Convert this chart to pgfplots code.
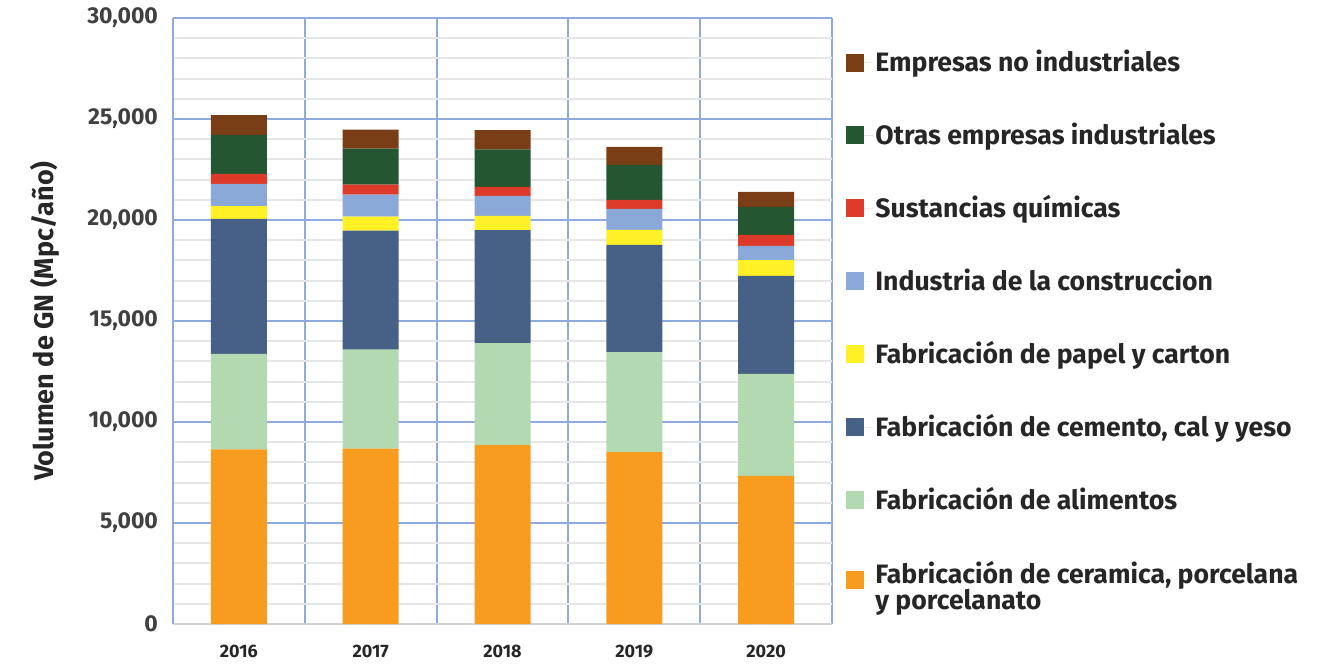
\documentclass[border=0pt]{standalone}
\usepackage{pgfplots}
\pgfplotsset{compat=1.18}
\usepackage{fontspec}
\setmainfont{Fira Sans}
\definecolor{cBrown}{HTML}{7A3E16}
\definecolor{cDGreen}{HTML}{235631}
\definecolor{cRed}{HTML}{DE3A29}
\definecolor{cLBlue}{HTML}{8BA9D8}
\definecolor{cYellow}{HTML}{FFF125}
\definecolor{cDBlue}{HTML}{466185}
\definecolor{cLGreen}{HTML}{B2D9B0}
\definecolor{cOrange}{HTML}{F79C1E}
\definecolor{gridblue}{HTML}{8FAADC}
\definecolor{gridgray}{HTML}{E6E6E6}
\definecolor{ticktext}{HTML}{404040}
\definecolor{darktext}{HTML}{262626}
\begin{document}
\begin{tikzpicture}
\begin{axis}[
  name=main,
  at={(0,0)}, anchor=south west,
  scale only axis,
  width=329.5pt, height=303pt,
  xmin=-0.5, xmax=4.5,
  ymin=0, ymax=30000,
  ybar stacked,
  bar width=28pt,
  xtick={0,1,2,3,4},
  xticklabels={2016,2017,2018,2019,2020},
  minor xtick={-0.5,0.5,1.5,2.5,3.5,4.5},
  ytick={0,5000,10000,15000,20000,25000,30000},
  minor ytick={1000,2000,3000,4000,6000,7000,8000,9000,11000,12000,13000,14000,16000,17000,18000,19000,21000,22000,23000,24000,26000,27000,28000,29000},
  ymajorgrids=true, yminorgrids=true, xminorgrids=true,
  major y grid style={draw=gridblue, line width=1pt},
  minor y grid style={draw=gridgray, line width=1pt},
  minor x grid style={draw=gridblue, line width=1pt},
  major tick length=0pt, minor tick length=0pt,
  axis lines*=left,
  x axis line style={draw=gray!35, line width=1pt},
  y axis line style={draw=gridblue, line width=1pt},
  scaled y ticks=false,
  /pgf/number format/fixed,
  /pgf/number format/1000 sep={,},
  /pgf/number format/assume math mode=true,
  yticklabel style={font=\bfseries\fontsize{11.5}{13}\selectfont, text=ticktext, xshift=-4pt},
  xticklabel style={font=\bfseries\fontsize{9}{11}\selectfont, text=darktext, yshift=-7pt},
  ylabel={Volumen de GN (Mpc/año)},
  ylabel style={font=\bfseries\fontsize{13.5}{15}\selectfont, text=darktext, at={(axis description cs:-0.194,0.5)}, anchor=center},
  legend style={at={(axis description cs:1,1)}, anchor=north west, xshift=4pt, yshift=-13pt,
    draw=none, fill=none, row sep=22pt,
    font=\bfseries\fontsize{13.3}{13.5}\selectfont, text=darktext,
    nodes={inner sep=1pt}},
  legend cell align=left,
  reverse legend,
  legend image code/.code={\fill[#1] (0pt,-4.5pt) rectangle (9pt,4.5pt); \path (0pt,0pt) -- (13.5pt,0pt);},
]
\addplot+[fill=cOrange, draw=none] coordinates {(0,8650) (1,8680) (2,8860) (3,8515) (4,7330)};
\addlegendentry{\begin{tabular}[c]{@{}l@{}}Fabricación de ceramica, porcelana\\[-1pt]y porcelanato\end{tabular}}
\addplot+[fill=cLGreen, draw=none] coordinates {(0,4720) (1,4900) (2,5050) (3,4950) (4,5050)};
\addlegendentry{Fabricación de alimentos}
\addplot+[fill=cDBlue, draw=none] coordinates {(0,6680) (1,5890) (2,5595) (3,5300) (4,4850)};
\addlegendentry{Fabricación de cemento, cal y yeso}
\addplot+[fill=cYellow, draw=none] coordinates {(0,640) (1,695) (2,695) (3,745) (4,790)};
\addlegendentry{Fabricación de papel y carton}
\addplot+[fill=cLBlue, draw=none] coordinates {(0,1100) (1,1090) (2,990) (3,1040) (4,695)};
\addlegendentry{Industria de la construccion}
\addplot+[fill=cRed, draw=none] coordinates {(0,495) (1,495) (2,445) (3,445) (4,545)};
\addlegendentry{Sustancias químicas}
\addplot+[fill=cDGreen, draw=none] coordinates {(0,1915) (1,1780) (2,1865) (3,1735) (4,1385)};
\addlegendentry{Otras empresas industriales}
\addplot+[fill=cBrown, draw=none] coordinates {(0,990) (1,940) (2,955) (3,890) (4,745)};
\addlegendentry{Empresas no industriales}
\end{axis}
\path (-86.5pt,-18pt) rectangle (581.5pt,312pt);
\end{tikzpicture}
\end{document}
